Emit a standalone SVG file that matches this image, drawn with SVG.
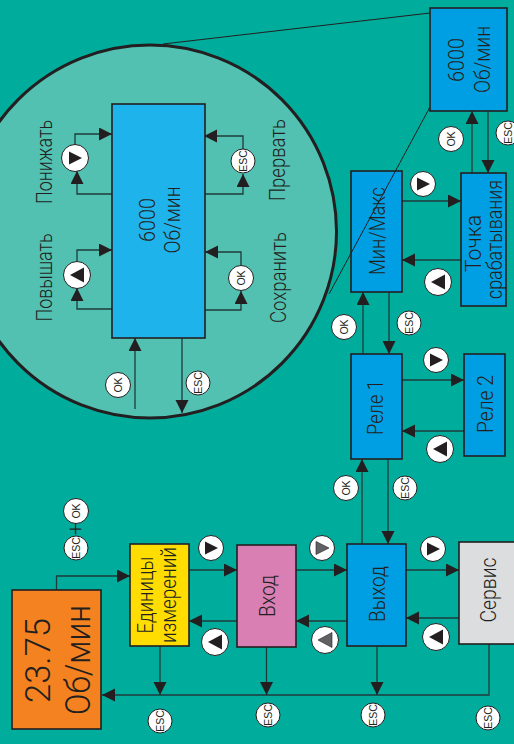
<svg xmlns="http://www.w3.org/2000/svg" width="514" height="744" viewBox="0 0 514 744">
<style>
text{font-family:"Liberation Sans",Arial,sans-serif;fill:#231f20;text-anchor:middle}
.n{stroke:#231f20;stroke-width:1.6}
.l{font-family:Roboto,"Liberation Sans",sans-serif;font-weight:300;font-size:21.500px}
.big{font-family:Roboto,"Liberation Sans",sans-serif;font-weight:300;font-size:35px}
.e{font-size:10.500px}
.k{font-size:10.500px}
.c{fill:#fff;stroke:#231f20;stroke-width:1}
.w{fill:none;stroke:#1f3b3b;stroke-width:1.300;marker-end:url(#a)}
.g{fill:#5f6163;stroke:#231f20;stroke-width:.6}
</style>
<defs>
<marker id="a" markerUnits="userSpaceOnUse" markerWidth="14" markerHeight="14" refX="13" refY="6.500" orient="auto"><path d="M0 0L13 6.500L0 13Z" fill="#231f20"/></marker>
<path id="tr" d="M-6 -6.500L7 0L-6 6.500Z" fill="#231f20"/>
<path id="tl" d="M-7 0L7 -7.500L7 7.500Z" fill="#231f20"/>
<path id="gr" d="M-6 -6.500L7 0L-6 6.500Z" class="g"/>
<path id="gl" d="M-7 0L7 -7.500L7 7.500Z" class="g"/>
</defs>
<rect width="514" height="744" fill="#00ad9c"/>
<g id="zoom-lens">
<line x1="430" y1="13" x2="163" y2="44" stroke="#231f20" stroke-width="1"/>
<circle cx="150" cy="231.500" r="186.500" fill="#52c1b2" stroke="#231f20" stroke-width="3"/>
</g>
<g id="connectors">
<path class="w" d="M56.500 590V576H130"/>
<path class="w" d="M189 570H237"/>
<path class="w" d="M237 621H189"/>
<path class="w" d="M160 646V695"/>
<path class="w" d="M489 644V695H102"/>
<path class="w" d="M266.500 647V695"/>
<path class="w" d="M377 646V695"/>
<path class="w" d="M296 570H347"/>
<path class="w" d="M347 621H296"/>
<path class="w" d="M406 570H459"/>
<path class="w" d="M459 618H406"/>
<path class="w" d="M362 544V459"/>
<path class="w" d="M388 459V544"/>
<path class="w" d="M402 380H464"/>
<path class="w" d="M464 431H402"/>
<path class="w" d="M363 354V292"/>
<path class="w" d="M389 292V354"/>
<path class="w" d="M402 201H461"/>
<path class="w" d="M461 260H402"/>
<path class="w" d="M472 173V111"/>
<path class="w" d="M488 111V173"/>
<path class="w" d="M112 194H77V171"/>
<path class="w" d="M75 145V134H112"/>
<path class="w" d="M205 194H243V174"/>
<path class="w" d="M243 149V136H204"/>
<path class="w" d="M112 309H77V288"/>
<path class="w" d="M77 262V250H112"/>
<path class="w" d="M205 310H241V291"/>
<path class="w" d="M241 265V252H205"/>
<path class="w" d="M135 409V338"/>
<path class="w" d="M182 338V413"/>
</g>
<g id="node-display"><rect class="n" x="12" y="590" width="89" height="139" fill="#f58220"/>
<text class="big" textLength="85" lengthAdjust="spacingAndGlyphs" transform="translate(50,660.500) rotate(-90)">23.75</text>
<text class="big" textLength="110" lengthAdjust="spacingAndGlyphs" transform="translate(90,660) rotate(-90)">Об/мин</text></g>
<g id="node-units"><rect class="n" x="130" y="544" width="59" height="102" fill="#ffdd00"/>
<text class="l" textLength="77" lengthAdjust="spacingAndGlyphs" transform="translate(153,595) rotate(-90)">Единицы</text>
<text class="l" textLength="96" lengthAdjust="spacingAndGlyphs" transform="translate(176,595) rotate(-90)">измерений</text></g>
<g id="node-input"><rect class="n" x="237" y="545" width="59" height="102" fill="#d97fb4"/>
<text class="l" textLength="42" lengthAdjust="spacingAndGlyphs" transform="translate(275,596) rotate(-90)">Вход</text></g>
<g id="node-output"><rect class="n" x="347" y="544" width="59" height="102" fill="#009fe3"/>
<text class="l" textLength="56" lengthAdjust="spacingAndGlyphs" transform="translate(385,594) rotate(-90)">Выход</text></g>
<g id="node-service"><rect class="n" x="459" y="542" width="60" height="102" fill="#dcdddf"/>
<text class="l" textLength="65" lengthAdjust="spacingAndGlyphs" transform="translate(496,590) rotate(-90)">Сервис</text></g>
<g id="node-relay1"><rect class="n" x="351" y="354" width="51" height="105" fill="#009fe3"/>
<text class="l" textLength="55" lengthAdjust="spacingAndGlyphs" transform="translate(383,407.500) rotate(-90)">Реле 1</text></g>
<g id="node-relay2"><rect class="n" x="464" y="354" width="41" height="102" fill="#009fe3"/>
<text class="l" textLength="58" lengthAdjust="spacingAndGlyphs" transform="translate(493,404) rotate(-90)">Реле 2</text></g>
<g id="node-minmax"><rect class="n" x="351" y="171" width="51" height="121" fill="#009fe3"/>
<text class="l" textLength="88" lengthAdjust="spacingAndGlyphs" transform="translate(385,231) rotate(-90)">Мин/Макс</text></g>
<g id="node-trip"><rect class="n" x="461" y="173" width="45" height="133" fill="#009fe3"/>
<text class="l" textLength="57" lengthAdjust="spacingAndGlyphs" transform="translate(481,243.500) rotate(-90)">Точка</text>
<text class="l" textLength="119" lengthAdjust="spacingAndGlyphs" transform="translate(502,239.500) rotate(-90)">срабатывания</text></g>
<g id="node-speed"><rect class="n" x="430" y="8" width="77" height="103" fill="#009fe3"/>
<text class="l" textLength="44" lengthAdjust="spacingAndGlyphs" transform="translate(464,60) rotate(-90)">6000</text>
<text class="l" textLength="67" lengthAdjust="spacingAndGlyphs" transform="translate(490,59.500) rotate(-90)">Об/мин</text></g>
<g id="node-detail"><rect class="n" x="112" y="104" width="93" height="234" fill="#1fb3eb"/>
<text class="l" textLength="44" lengthAdjust="spacingAndGlyphs" transform="translate(155,220) rotate(-90)">6000</text>
<text class="l" textLength="67" lengthAdjust="spacingAndGlyphs" transform="translate(180,220) rotate(-90)">Об/мин</text></g>
<line id="zoom-lens-edge" x1="430" y1="107" x2="329" y2="294" stroke="#231f20" stroke-width="1"/>
<g id="labels">
<text class="l" textLength="84" lengthAdjust="spacingAndGlyphs" transform="translate(52,162) rotate(-90)">Понижать</text>
<text class="l" textLength="82" lengthAdjust="spacingAndGlyphs" transform="translate(285,160) rotate(-90)">Прервать</text>
<text class="l" textLength="88" lengthAdjust="spacingAndGlyphs" transform="translate(52,277.500) rotate(-90)">Повышать</text>
<text class="l" textLength="91" lengthAdjust="spacingAndGlyphs" transform="translate(286,277.500) rotate(-90)">Сохранить</text>
<text class="l" transform="translate(83,529) rotate(-90)">+</text>
</g>
<g id="badge-esc-ok"><circle class="c" cx="76" cy="511" r="12.500"/><text class="k" transform="translate(80,511) rotate(-90)">OK</text>
<circle class="c" cx="76" cy="548" r="12"/><text class="e" transform="translate(80,548) rotate(-90)">ESC</text></g>
<g id="badge-esc-1"><circle class="c" cx="160" cy="721" r="12"/><text class="e" transform="translate(164,721) rotate(-90)">ESC</text></g>
<g id="badge-esc-2"><circle class="c" cx="268" cy="715" r="12"/><text class="e" transform="translate(272,715) rotate(-90)">ESC</text></g>
<g id="badge-esc-3"><circle class="c" cx="373" cy="715" r="12"/><text class="e" transform="translate(377,715) rotate(-90)">ESC</text></g>
<g id="badge-esc-4"><circle class="c" cx="488" cy="718" r="12"/><text class="e" transform="translate(492,718) rotate(-90)">ESC</text></g>
<g id="badge-ok-5"><circle class="c" cx="346" cy="488" r="12.500"/><text class="k" transform="translate(350,488) rotate(-90)">OK</text></g>
<g id="badge-esc-5"><circle class="c" cx="405" cy="488" r="12"/><text class="e" transform="translate(409,488) rotate(-90)">ESC</text></g>
<g id="badge-ok-6"><circle class="c" cx="344" cy="327" r="12.500"/><text class="k" transform="translate(348,327) rotate(-90)">OK</text></g>
<g id="badge-esc-6"><circle class="c" cx="409" cy="323" r="12"/><text class="e" transform="translate(413,323) rotate(-90)">ESC</text></g>
<g id="badge-ok-7"><circle class="c" cx="451" cy="139" r="12.500"/><text class="k" transform="translate(455,139) rotate(-90)">OK</text></g>
<g id="badge-esc-7"><circle class="c" cx="508" cy="133" r="12"/><text class="e" transform="translate(512,133) rotate(-90)">ESC</text></g>
<g id="badge-ok-8"><circle class="c" cx="118" cy="385" r="12.500"/><text class="k" transform="translate(122,385) rotate(-90)">OK</text></g>
<g id="badge-esc-8"><circle class="c" cx="198" cy="383" r="12"/><text class="e" transform="translate(202,383) rotate(-90)">ESC</text></g>
<g id="badge-esc-9"><circle class="c" cx="243" cy="161" r="12"/><text class="e" transform="translate(247,161) rotate(-90)">ESC</text></g>
<g id="badge-ok-9"><circle class="c" cx="241" cy="278" r="12.500"/><text class="k" transform="translate(245,278) rotate(-90)">OK</text></g>
<g id="btn-r1"><circle class="c" cx="211" cy="548" r="12.500"/><use href="#tr" x="211" y="548"/></g>
<g id="btn-l1"><circle class="c" cx="215" cy="642" r="13.500"/><use href="#tl" x="215" y="642"/></g>
<g id="btn-r2"><circle class="c" cx="322" cy="548" r="12.500"/><use href="#gr" x="322" y="548"/></g>
<g id="btn-l2"><circle class="c" cx="325" cy="640" r="13.500"/><use href="#gl" x="325" y="640"/></g>
<g id="btn-r3"><circle class="c" cx="433" cy="549" r="12.500"/><use href="#tr" x="433" y="549"/></g>
<g id="btn-l3"><circle class="c" cx="436" cy="637" r="13.500"/><use href="#tl" x="436" y="637"/></g>
<g id="btn-r4"><circle class="c" cx="436" cy="360" r="12.500"/><use href="#tr" x="436" y="360"/></g>
<g id="btn-l4"><circle class="c" cx="440" cy="449" r="13.500"/><use href="#tl" x="440" y="449"/></g>
<g id="btn-r5"><circle class="c" cx="423" cy="184" r="12.500"/><use href="#tr" x="423" y="184"/></g>
<g id="btn-l5"><circle class="c" cx="438" cy="282" r="13.500"/><use href="#tl" x="438" y="282"/></g>
<g id="btn-r6"><circle class="c" cx="75" cy="158" r="13.500"/><use href="#tr" x="75" y="158"/></g>
<g id="btn-l6"><circle class="c" cx="77" cy="275" r="13.500"/><use href="#tl" x="77" y="275"/></g>
</svg>
